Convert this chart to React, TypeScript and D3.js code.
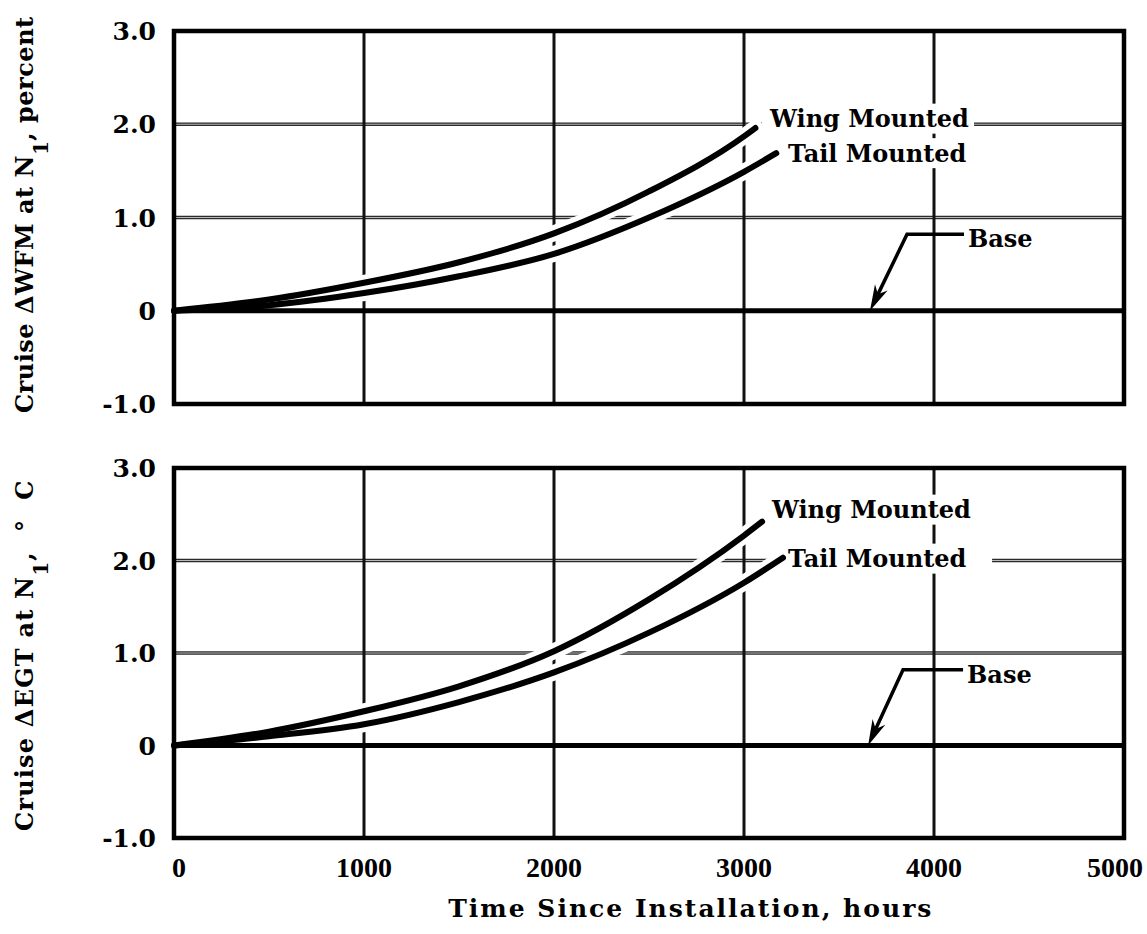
import * as d3 from 'd3';

const HOUR_TICKS = [0, 1000, 2000, 3000, 4000, 5000];
const HOUR_TICK_LABELS = ['0', '1000', '2000', '3000', '4000', '5000'];
const VALUE_TICKS = [3, 2, 1, 0, -1];
const VALUE_TICK_LABELS = ['3.0', '2.0', '1.0', '0', '-1.0'];
const GRID_HOURS = [1000, 2000, 3000, 4000];
const GRID_VALUES = [1, 2];

// cruise fuel flow change, percent  [hours, value]
const wfmWing: [number, number][] = [
  [0, 0], [500, 0.12], [1000, 0.3], [1500, 0.52], [2000, 0.83], [2500, 1.28], [3000, 1.87], [3060, 1.96],
];
const wfmTail: [number, number][] = [
  [0, 0], [500, 0.06], [1000, 0.19], [1500, 0.37], [2000, 0.61], [2500, 1.0], [3000, 1.49], [3170, 1.69],
];
// cruise EGT change, deg C
const egtWing: [number, number][] = [
  [0, 0], [500, 0.15], [1000, 0.37], [1500, 0.64], [2000, 1.02], [2500, 1.58], [3000, 2.27], [3095, 2.42],
];
const egtTail: [number, number][] = [
  [0, 0], [500, 0.1], [1000, 0.23], [1500, 0.47], [2000, 0.79], [2500, 1.22], [3000, 1.76], [3205, 2.03],
];

const WING_NAME = 'Wing Mounted';
const TAIL_NAME = 'Tail Mounted';
const BASE_NAME = 'Base';
const X_TITLE = 'Time Since Installation, hours';

const FONT = '"DejaVu Serif", serif';
const W = 1147;
const H = 934;

const x = d3.scaleLinear().domain([0, 5000]).range([174, 1124]);

type Pt = [number, number];
interface Ann {
  wing: Pt;
  tail: Pt;
  base: Pt;
  elbow: Pt;
  tip: Pt;
}

interface PanelProps {
  top: number;
  bottom: number;
  wing: Pt[];
  tail: Pt[];
  ann: Ann;
  labelStart: number;
  labelSpacing: number;
  labelPre: string;
  labelPost: string;
}

function Panel({ top, bottom, wing, tail, ann, labelStart, labelSpacing, labelPre, labelPost }: PanelProps) {
  const y = d3.scaleLinear().domain([-1, 3]).range([bottom, top]);
  const line = d3
    .line<Pt>()
    .x((d) => x(d[0]))
    .y((d) => y(d[1]))
    .curve(d3.curveMonotoneX);

  // arrow head for the base leader
  const tx = x(ann.tip[0]);
  const ty = y(ann.tip[1]);
  const ex = x(ann.elbow[0]);
  const ey = y(ann.elbow[1]);
  const len = Math.hypot(tx - ex, ty - ey);
  const ux = (tx - ex) / len;
  const uy = (ty - ey) / len;
  const nx = -uy;
  const ny = ux;
  const L = 26;
  const Wd = 7;
  const head = [
    [tx, ty],
    [tx - ux * L + nx * Wd, ty - uy * L + ny * Wd],
    [tx - ux * L * 0.7, ty - uy * L * 0.7],
    [tx - ux * L - nx * Wd, ty - uy * L - ny * Wd],
  ]
    .map((p) => p.join(','))
    .join(' ');

  const x0 = x(0);
  const x1 = x(5000);

  return (
    <g>
      <rect x={x0} y={top} width={x1 - x0} height={bottom - top} fill="#fff" />
      {GRID_VALUES.map((v) => (
        <g key={'h' + v}>
          <line x1={x0} x2={x1} y1={y(v)} y2={y(v)} stroke="#2a2a2a" strokeWidth={3.5} />
          <line x1={x0} x2={x1} y1={y(v)} y2={y(v)} stroke="#b8b8b8" strokeWidth={1} />
        </g>
      ))}
      {GRID_HOURS.map((h) => (
        <line key={'v' + h} x1={x(h)} x2={x(h)} y1={top} y2={bottom} stroke="#111" strokeWidth={3} />
      ))}
      {[wing, tail].map((s, i) => (
        <path key={'halo' + i} d={line(s) ?? ''} fill="none" stroke="#fff" strokeWidth={16} strokeLinecap="round" />
      ))}
      <rect x={x(ann.wing[0]) - 8} y={y(ann.wing[1]) - 15} width={212} height={30} fill="#fff" />
      <rect x={x(ann.tail[0]) - 8} y={y(ann.tail[1]) - 15} width={212} height={30} fill="#fff" />
      <line x1={x0} x2={x1} y1={y(0)} y2={y(0)} stroke="#000" strokeWidth={5} />
      {[wing, tail].map((s, i) => (
        <path key={'c' + i} d={line(s) ?? ''} fill="none" stroke="#000" strokeWidth={6} strokeLinecap="round" />
      ))}
      <polyline
        points={`${x(ann.base[0]) - 4},${ey} ${ex},${ey} ${tx - ux * L * 0.7},${ty - uy * L * 0.7}`}
        fill="none"
        stroke="#000"
        strokeWidth={3.5}
      />
      <polygon points={head} fill="#000" />
      <g fontFamily={FONT} fontWeight="bold" fontSize={24} fill="#000" dominantBaseline="central">
        <text x={x(ann.wing[0])} y={y(ann.wing[1])}>{WING_NAME}</text>
        <text x={x(ann.tail[0])} y={y(ann.tail[1])}>{TAIL_NAME}</text>
        <text x={x(ann.base[0])} y={y(ann.base[1])}>{BASE_NAME}</text>
      </g>
      <g fontFamily={FONT} fontWeight="bold" fontSize={25} fill="#000" textAnchor="end">
        {VALUE_TICKS.map((v, i) => (
          <text key={v} x={156} y={y(v)} dy="0.36em">
            {VALUE_TICK_LABELS[i]}
          </text>
        ))}
      </g>
      <text
        transform={`translate(33,${labelStart}) rotate(-90)`}
        fontFamily={FONT}
        fontWeight="bold"
        fontSize={24}
        letterSpacing={labelSpacing}
        fill="#000"
      >
        {labelPre}
        <tspan dy={15} fontSize={20}>1</tspan>
        <tspan dy={-15}>{labelPost}</tspan>
      </text>
      <rect x={x0} y={top} width={x1 - x0} height={bottom - top} fill="none" stroke="#000" strokeWidth={4.5} />
    </g>
  );
}

export default function App() {
  const topAnn: Ann = {
    wing: [3137, 2.06],
    tail: [3232, 1.69],
    base: [4179, 0.78],
    elbow: [3858, 0.82],
    tip: [3663, 0],
  };
  const bottomAnn: Ann = {
    wing: [3147, 2.55],
    tail: [3232, 2.02],
    base: [4174, 0.77],
    elbow: [3837, 0.82],
    tip: [3653, 0],
  };
  const last = HOUR_TICKS.length - 1;
  return (
    <svg
      width={W}
      height={H}
      style={{ position: 'absolute', left: 0, top: 0, background: '#fff' }}
    >
      <rect width={W} height={H} fill="#fff" />
      <Panel
        top={31}
        bottom={404}
        wing={wfmWing}
        tail={wfmTail}
        ann={topAnn}
        labelStart={413}
        labelSpacing={0.5}
        labelPre={'Cruise \u0394WFM at N'}
        labelPost={',\u00a0percent'}
      />
      <Panel
        top={468}
        bottom={838}
        wing={egtWing}
        tail={egtTail}
        ann={bottomAnn}
        labelStart={831}
        labelSpacing={1.2}
        labelPre={'Cruise \u0394EGT at N'}
        labelPost={',\u00a0\u00a0\u00b0\u00a0\u00a0C'}
      />
      <g fontFamily='"Liberation Serif", serif' fontWeight="bold" fontSize={28} fill="#000">
        {HOUR_TICKS.map((h, i) => (
          <text
            key={h}
            x={i === last ? W - 4 : x(h) + (i === 0 ? 5 : 0)}
            y={877}
            textAnchor={i === last ? 'end' : 'middle'}
          >
            {HOUR_TICK_LABELS[i]}
          </text>
        ))}
      </g>
      <text
        x={x(2720)}
        y={917}
        textAnchor="middle"
        fontFamily={FONT}
        fontWeight="bold"
        fontSize={25}
        letterSpacing={2}
        fill="#000"
      >
        {X_TITLE}
      </text>
    </svg>
  );
}
